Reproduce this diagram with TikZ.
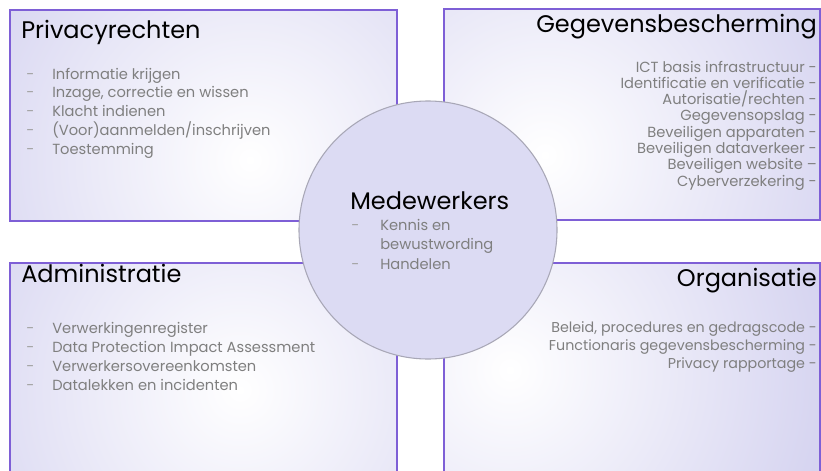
\documentclass[tikz,border=0pt]{standalone}
\usepackage{fontspec}
\setmainfont{Poppins}

\definecolor{paars}{HTML}{7E5FD6}
\definecolor{lila}{HTML}{D2D0EF}
\definecolor{cirkel}{HTML}{DCDBF3}
\definecolor{cirkelrand}{HTML}{A8A7B6}
\definecolor{tekstgrijs}{HTML}{7F7F7F}
\definecolor{streepgrijs}{HTML}{A3A3A3}

% one quarter: box from (#1,#2) to (#3,#4), white spot at (#5,#6)
\newcommand{\vlak}[6]{%
  \begin{scope}
    \clip (#1,#2) rectangle (#3,#4);
    \fill[lila] (#1,#2) rectangle (#3,#4);
    \shade[inner color=white,outer color=lila] (#5,#6) circle (350);
  \end{scope}
  \draw[rand] (#1,#2) rectangle (#3,#4);}

\begin{document}
\begin{tikzpicture}[x=0.75pt,y=-0.75pt,
    rand/.style={draw=paars,line width=1.1pt},
    titel/.style={font=\fontsize{18}{21}\selectfont,text=black,inner sep=0pt},
    punt/.style={font=\fontsize{11}{13}\selectfont,text=tekstgrijs,inner sep=0pt},
    streep/.style={font=\fontsize{11}{13}\selectfont,text=streepgrijs,inner sep=0pt}]
    \useasboundingbox (0,0) rectangle (821,471);
    \clip (0,0) rectangle (821,471);

    \vlak{10}{10}{397}{221}{250}{160}   % top left
    \vlak{444}{9}{820}{220}{545}{155}   % top right
    \vlak{10}{263}{397}{490}{240}{390}  % bottom left
    \vlak{444}{263}{820}{490}{510}{370} % bottom right
    \filldraw[fill=cirkel,draw=cirkelrand,line width=0.8pt] (428,230) circle (129); % the middle

\node[titel,anchor=base west] (privacy) at (21,38) {Privacyrechten};
\foreach \tekst [count=\i] in {Informatie krijgen, {Inzage, correctie en wissen}, Klacht indienen, (Voor)aanmelden/inschrijven, Toestemming}{
    \node[streep,anchor=base west] (privacy-s\i) at (26,{79+18.75*(\i-1)}) {-};
    \node[punt,anchor=base west] (privacy-\i) at (52,{79+18.75*(\i-1)}) {\tekst};
}

\node[titel,anchor=base east] (gegevens) at (817,32) {Gegevensbescherming};
\foreach \tekst [count=\i] in {ICT basis infrastructuur -, Identificatie en verificatie -, Autorisatie/rechten -, Gegevensopslag -, Beveiligen apparaten -, Beveiligen dataverkeer -, Beveiligen website --, Cyberverzekering -}
    \node[punt,anchor=base east] (gegevens-\i) at (817,{72+16.3*(\i-1)}) {\tekst};

\node[titel,anchor=base west] (admin) at (21,282) {Administratie};
\foreach \tekst [count=\i] in {Verwerkingenregister, Data Protection Impact Assessment, Verwerkersovereenkomsten, Datalekken en incidenten}{
    \node[streep,anchor=base west] (admin-s\i) at (26,{333.3+19*(\i-1)}) {-};
    \node[punt,anchor=base west] (admin-\i) at (52,{333.3+19*(\i-1)}) {\tekst};
}

\node[titel,anchor=base east] (organisatie) at (817,286) {Organisatie};
\foreach \tekst [count=\i] in {{Beleid, procedures en gedragscode -}, Functionaris gegevensbescherming -, Privacy rapportage -}
    \node[punt,font=\fontsize{10.7}{13}\selectfont,anchor=base east] (organisatie-\i) at (817,{332.7+17.8*(\i-1)}) {\tekst};

\node[titel,anchor=base west] (medewerkers) at (350,209) {Medewerkers};
\node[streep,anchor=base west] (medewerkers-s1) at (351,230) {-};
\node[punt,anchor=base west] (medewerkers-1) at (380,230) {Kennis en};
\node[punt,anchor=base west] (medewerkers-1b) at (380,249.7) {bewustwording};
\node[streep,anchor=base west] (medewerkers-s2) at (351,269.4) {-};
\node[punt,anchor=base west] (medewerkers-2) at (380,269.4) {Handelen};
\end{tikzpicture}
\end{document}
